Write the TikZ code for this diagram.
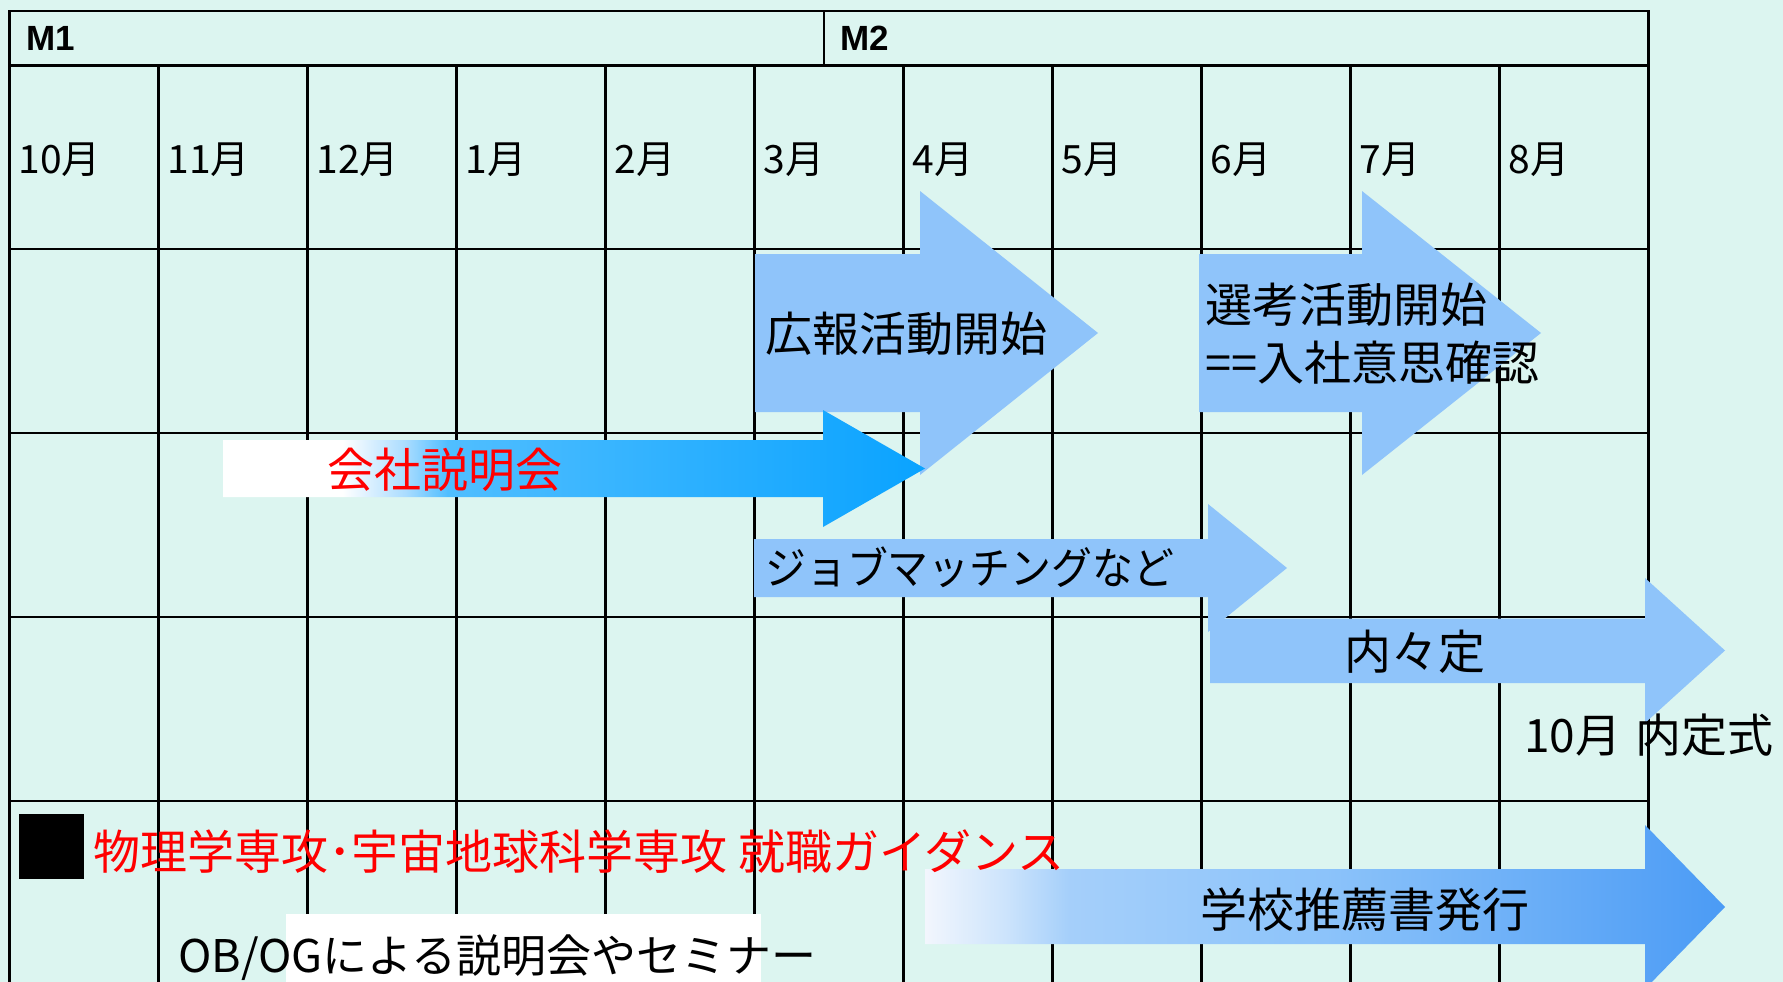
\documentclass[tikz,border=0pt]{standalone}
\usepackage{fontspec}
\usepackage{graphicx}
\setmainfont{Noto Sans CJK JP}
\newfontfamily\latfont{Liberation Sans}
\definecolor{bg}{RGB}{220,245,240}
\definecolor{lb}{RGB}{143,196,250}
\definecolor{rd}{RGB}{255,0,0}
\pgfdeclarehorizontalshading{kaishashade}{100bp}{rgb(0bp)=(1,1,1); rgb(33.5bp)=(1,1,1); rgb(38bp)=(0.667,0.863,1); rgb(41bp)=(0.314,0.745,1); rgb(75bp)=(0.039,0.639,1); rgb(100bp)=(0.039,0.639,1)}
\pgfdeclarehorizontalshading{gakkoshade}{100bp}{rgb(0bp)=(0.949,0.965,0.992); rgb(25bp)=(0.949,0.965,0.992); rgb(30bp)=(0.804,0.894,0.988); rgb(34bp)=(0.647,0.812,0.980); rgb(50bp)=(0.549,0.765,0.980); rgb(75bp)=(0.294,0.608,0.961); rgb(100bp)=(0.294,0.608,0.961)}
\begin{document}
\begin{tikzpicture}[x=1pt,y=-1pt,
  gridline/.style={line width=2.2pt, black},
  lbl/.style={inner sep=0pt, anchor=base west},
  ctr/.style={inner sep=0pt, anchor=base},
  sz47/.style={font=\fontsize{47}{51}\selectfont},
  monthlbl/.style={lbl, font=\fontsize{39}{43}\selectfont},
  mlbl/.style={lbl, font=\latfont\bfseries\fontsize{35}{39}\selectfont},
  arrowfill/.style={fill=lb}]
\fill[bg] (0,0) rectangle (1783,982);
\useasboundingbox (0,0) rectangle (1783,982);
% grid
\foreach \i in {1,...,10} {
  \pgfmathsetmacro\xx{9.5+149*\i}
  \draw[gridline] (\xx,66) -- (\xx,982);
}
\draw[gridline] (9.5,982) -- (9.5,11) -- (1648.5,11) -- (1648.5,982);
\draw[line width=3pt] (9.5,66) -- (1648.5,66);
\draw[gridline] (824,11) -- (824,66);
\foreach \yy in {249,433,617,801} \draw[gridline] (9.5,\yy) -- (1648.5,\yy);
% header labels
\node[mlbl] (M1) at (26,50.5) {M1};
\node[mlbl] (M2) at (840,50.5) {M2};
\foreach \m [count=\i from 0] in {10月,11月,12月,1月,2月,3月,4月,5月,6月,7月,8月}
  \node[monthlbl] (mon\i) at ({9.5+149*\i+9},173.5) {\m};
% arrows
\fill[arrowfill] (755,254) -- (920,254) -- (920,191) -- (1098,333) -- (920,475) -- (920,412) -- (755,412) -- cycle;
\fill[arrowfill] (1199,254) -- (1362,254) -- (1362,191) -- (1541,333) -- (1362,475) -- (1362,412) -- (1199,412) -- cycle;
\shade[shading=kaishashade] (223,440) -- (823,440) -- (823,410) -- (925,468.5) -- (823,527) -- (823,497) -- (223,497) -- cycle;
\fill[arrowfill] (1210,618.5) -- (1645,618.5) -- (1645,578) -- (1725,650.5) -- (1645,723) -- (1645,683) -- (1210,683) -- cycle;
\fill[arrowfill] (754,539) -- (1208,539) -- (1208,504) -- (1287,568) -- (1208,632) -- (1208,597) -- (754,597) -- cycle;
\shade[shading=gakkoshade] (925,869) -- (1645,869) -- (1645,825) -- (1725,907) -- (1645,989) -- (1645,944) -- (925,944) -- cycle;
\fill[white] (286,914) rectangle (761,985);
% texts
\node[lbl, sz47] (kouhou) at (765,351.5) {広報活動開始};
\node[lbl, sz47] (senkou1) at (1205,322.5) {選考活動開始};
\node[lbl, sz47] (senkou2) at (1205,380.5) {==入社意思確認};
\node[lbl, sz47, text=rd] (setsumei) at (327,487.5) {会社説明会};
\node[lbl, font=\fontsize{44}{48}\selectfont] (job) at (765,584) {\scalebox{0.93}[1]{ジョブマッチングなど}};
\node[ctr, sz47] (naina) at (1415,669.5) {内々定};
\node[lbl, font=\fontsize{46}{50}\selectfont] (shiki) at (1524,752) {10月\hspace{0.3em}内定式};
\node[fill=black, inner sep=0pt, minimum size=65pt, anchor=north west] (sq) at (19,814) {};
\node[lbl, sz47, text=rd] (guide) at (93,869.5) {物理学専攻･宇宙地球科学専攻\hspace{0.22em}就職ガイダンス};
\node[lbl, sz47] (gakko) at (1200,927.5) {学校推薦書発行};
\node[lbl, font=\fontsize{45}{49}\selectfont] (obog) at (178,972) {OB/OGによる説明会やセミナー};
\end{tikzpicture}
\end{document}
